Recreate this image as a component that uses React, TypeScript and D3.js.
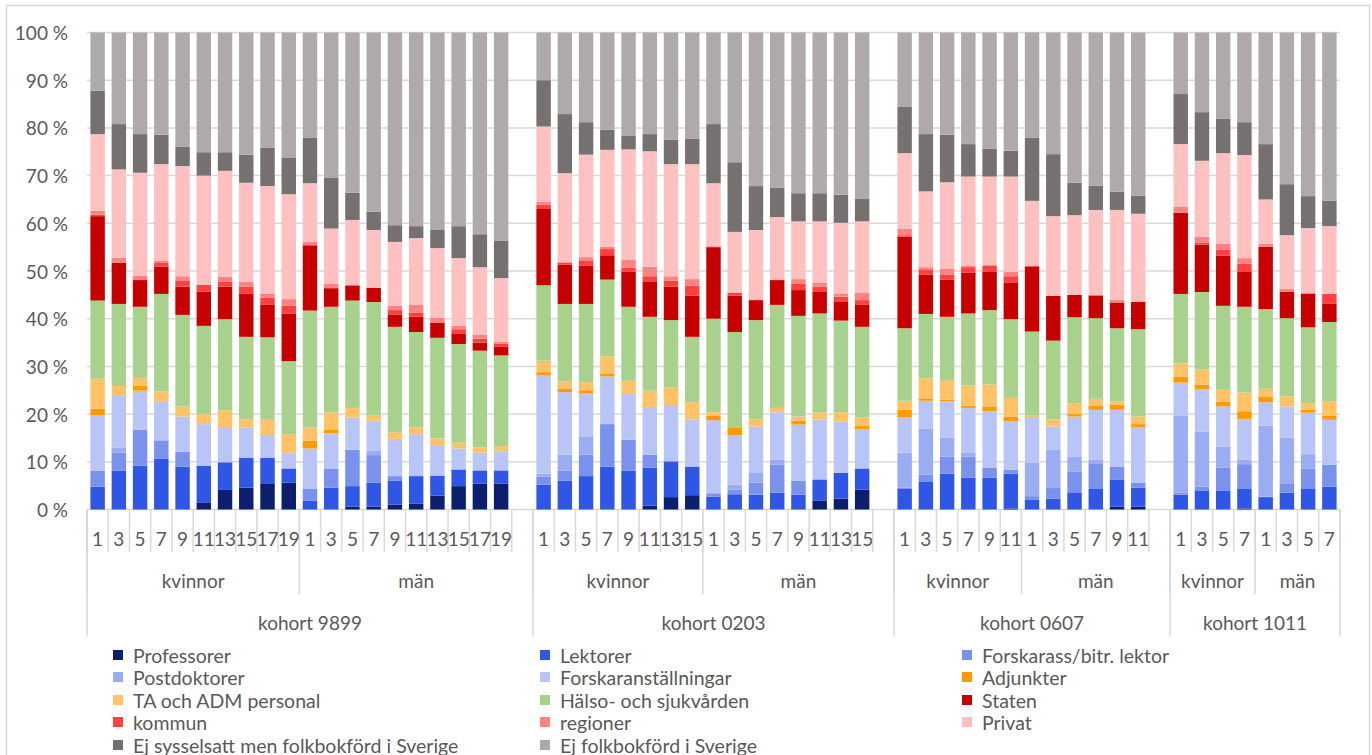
import React from "react";
import * as d3 from "d3";

// ---------- DATA ----------
const kohorts = ["kohort 9899", "kohort 0203", "kohort 0607", "kohort 1011"];
const genders = ["kvinnor", "män"];
const yearsPerKohort = [
  ["1", "3", "5", "7", "9", "11", "13", "15", "17", "19"],
  ["1", "3", "5", "7", "9", "11", "13", "15"],
  ["1", "3", "5", "7", "9", "11"],
  ["1", "3", "5", "7"],
];
const yTicks = [0, 10, 20, 30, 40, 50, 60, 70, 80, 90, 100];

// order: 9899K(10) 9899M(10) 0203K(8) 0203M(8) 0607K(6) 0607M(6) 1011K(4) 1011M(4)
const professorer = [
  0, 0, 0, 0, 0, 1.5, 4.1, 4.6, 5.5, 5.6,
  0, 0, 0.6, 0.6, 1.0, 1.2, 2.9, 4.9, 5.4, 5.4,
  0, 0, 0, 0, 0, 0.8, 2.6, 3.0,
  0, 0, 0, 0, 0, 1.9, 2.3, 4.2,
  0, 0, 0, 0, 0, 0.2,
  0, 0, 0, 0, 0.6, 0.6,
  0, 0, 0, 0.2,
  0, 0, 0, 0,
];
const lektorer = [
  4.8, 8.1, 9.2, 10.6, 9.0, 7.7, 5.8, 6.2, 5.3, 3.0,
  1.8, 4.6, 4.3, 5.0, 5.0, 5.8, 4.2, 3.5, 2.8, 2.8,
  5.2, 6.0, 7.0, 9.0, 8.1, 8.0, 7.5, 6.0,
  2.7, 3.2, 3.1, 3.5, 3.1, 4.4, 5.4, 4.4,
  4.3, 5.9, 7.5, 6.7, 6.7, 7.3,
  2.0, 2.3, 3.6, 4.3, 5.6, 4.0,
  3.1, 4.0, 4.0, 4.1,
  2.6, 3.5, 4.3, 4.8,
];
const forskarass = [
  3.3, 3.8, 7.5, 3.9, 3.1, 0, 0, 0, 0, 0,
  2.5, 4.0, 7.6, 5.8, 1.0, 0, 0, 0, 0, 0,
  1.7, 2.1, 4.5, 8.9, 6.5, 2.7, 0, 0,
  0.7, 1.0, 2.5, 5.9, 2.9, 0, 0, 0,
  0.3, 1.4, 3.6, 4.4, 2.0, 0.8,
  0.8, 2.2, 4.4, 5.4, 2.8, 1.0,
  0.4, 0.8, 4.8, 5.2,
  0.1, 2.0, 4.3, 4.6,
];
const postdoktorer = [
  0, 1.1, 0, 0, 0, 0, 0, 0, 0, 0,
  0, 0, 0, 0.9, 0, 0, 0, 0, 0, 0,
  0.6, 3.4, 3.7, 0, 0, 0, 0, 0,
  0, 1.0, 2.2, 1.0, 0, 0, 0, 0,
  7.3, 9.6, 4.0, 0.9, 0, 0,
  7.0, 8.1, 3.0, 0.7, 0, 0,
  16.1, 11.5, 4.4, 0.9,
  14.9, 9.6, 3.0, 0,
];
const forskaranst = [
  11.6, 10.8, 8.2, 8.2, 7.4, 8.7, 7.2, 6.4, 4.8, 3.2,
  8.5, 7.4, 6.8, 6.3, 7.8, 8.8, 6.4, 4.4, 3.7, 4.0,
  20.6, 13.1, 9.1, 10.0, 9.6, 10.0, 11.6, 9.9,
  15.3, 10.4, 9.6, 10.0, 11.8, 12.6, 10.8, 8.2,
  7.4, 5.9, 7.6, 9.3, 11.9, 10.2,
  9.4, 4.8, 8.5, 10.5, 11.9, 11.6,
  7.0, 8.9, 8.4, 8.6,
  4.9, 6.5, 8.7, 9.4,
];
const adjunkter = [
  1.4, 0, 1.0, 0, 0, 0, 0, 0, 0, 0,
  1.6, 0.7, 0, 0, 0, 0, 0, 0, 0, 0,
  0.7, 0.7, 0.7, 0.5, 0, 0, 0, 0,
  0.9, 1.5, 0, 0, 0.8, 0, 0, 0.7,
  1.6, 0.5, 0.3, 0.5, 1.0, 1.0,
  0, 0, 0.5, 0.8, 1.0, 0.7,
  1.2, 1.0, 1.0, 1.6,
  1.2, 0, 0.6, 0.9,
];
const taAdm = [
  6.3, 2.1, 1.7, 2.1, 2.1, 2.1, 3.7, 1.7, 3.2, 4.0,
  2.8, 3.6, 2.0, 1.2, 1.4, 1.4, 1.4, 1.2, 1.1, 1.1,
  2.4, 1.6, 1.7, 3.7, 2.8, 3.4, 3.9, 3.6,
  0.8, 0, 1.6, 0.9, 0.9, 1.4, 1.9, 1.8,
  1.9, 4.2, 4.0, 4.2, 4.6, 3.9,
  0.6, 1.5, 2.3, 1.5, 0.8, 1.6,
  2.8, 3.2, 2.5, 3.9,
  1.6, 2.1, 1.4, 3.0,
];
const halso = [
  16.4, 17.2, 14.9, 20.4, 19.2, 18.5, 19.1, 17.3, 17.3, 15.3,
  24.5, 22.2, 22.5, 23.7, 22.1, 20.0, 21.1, 20.7, 20.3, 19.0,
  15.8, 16.2, 16.4, 16.1, 15.5, 15.5, 14.1, 13.7,
  19.6, 20.1, 20.7, 21.6, 21.1, 20.8, 19.2, 19.0,
  15.2, 13.5, 13.4, 15.1, 15.6, 16.5,
  17.5, 16.5, 18.0, 16.9, 15.3, 18.3,
  14.6, 16.2, 17.6, 18.0,
  16.7, 16.4, 15.9, 16.6,
];
const staten = [
  17.7, 8.6, 5.6, 5.7, 5.9, 7.2, 6.8, 9.1, 6.9, 10.0,
  13.7, 3.9, 3.2, 3.0, 2.6, 3.2, 3.2, 2.1, 1.7, 1.8,
  16.0, 8.2, 8.0, 5.1, 7.4, 7.3, 7.0, 8.6,
  15.0, 7.6, 4.2, 5.2, 5.4, 4.5, 3.9, 4.7,
  19.2, 8.2, 7.8, 8.6, 8.0, 7.6,
  13.7, 9.4, 4.7, 4.8, 5.4, 5.7,
  17.0, 9.9, 10.5, 7.3,
  13.1, 5.5, 7.1, 3.8,
];
const kommun = [
  0.3, 0, 0, 0.9, 1.2, 1.4, 1.1, 1.4, 1.4, 1.6,
  0, 0, 0, 0, 0.9, 0.9, 0, 1.0, 0.8, 0.7,
  0.9, 0.5, 1.0, 1.3, 0.8, 1.2, 1.3, 2.1,
  0, 0.6, 0, 0, 1.3, 1.1, 1.1, 0.9,
  0.3, 1.0, 1.0, 1.1, 1.3, 1.4,
  0, 0, 0, 0, 0, 0,
  0, 0.4, 1.3, 1.7,
  0, 0, 0, 2.1,
];
const regioner = [
  0.8, 1.1, 0.9, 0.3, 1.0, 0, 1.0, 1.0, 0.9, 1.4,
  0.7, 0.9, 0, 0, 0.9, 1.6, 1.0, 0.7, 0.8, 0.4,
  0.6, 0, 0.8, 0.5, 1.6, 2.0, 0.9, 1.4,
  0.2, 0, 0, 0, 1.0, 0.9, 0.7, 1.6,
  1.4, 0.6, 1.3, 0.3, 0.2, 0.9,
  0, 0, 0, 0, 0.6, 0,
  1.3, 1.3, 1.2, 1.2,
  0.6, 0.7, 0, 0,
];
const privat = [
  16.1, 18.5, 21.6, 20.3, 23.1, 22.9, 22.2, 20.8, 22.5, 22.0,
  12.3, 11.6, 13.7, 12.1, 13.4, 14.0, 14.6, 14.2, 14.2, 13.3,
  15.8, 18.7, 21.5, 20.3, 23.2, 24.2, 23.5, 24.1,
  13.2, 12.8, 14.7, 13.2, 12.1, 12.8, 14.8, 14.9,
  15.8, 15.9, 18.1, 18.7, 18.5, 20.0,
  13.7, 16.7, 16.7, 17.9, 18.8, 18.5,
  13.1, 15.9, 19.0, 21.6,
  9.3, 11.2, 13.7, 14.2,
];
const ejSysselsatt = [
  9.1, 9.5, 8.1, 6.2, 4.1, 4.9, 3.9, 5.9, 8.0, 7.6,
  9.5, 10.6, 5.7, 3.8, 3.5, 2.5, 3.8, 6.7, 6.9, 7.8,
  9.7, 12.4, 6.8, 4.2, 2.8, 3.6, 5.1, 5.3,
  12.4, 14.6, 9.2, 6.2, 5.9, 5.9, 5.9, 4.7,
  9.8, 12.0, 10.0, 6.8, 5.8, 5.4,
  13.2, 13.0, 6.8, 5.1, 3.8, 3.8,
  10.5, 10.2, 7.2, 6.9,
  11.6, 10.7, 6.7, 5.3,
];
const ejFolkbokford = [
  12.2, 19.2, 21.3, 21.4, 23.9, 25.1, 25.1, 25.6, 24.2, 26.3,
  22.1, 30.5, 33.6, 37.6, 40.4, 40.6, 41.4, 40.6, 42.3, 43.7,
  10.0, 17.1, 18.8, 20.4, 21.7, 21.3, 22.5, 22.3,
  19.2, 27.2, 32.2, 32.5, 33.7, 33.7, 34.0, 34.9,
  15.5, 21.3, 21.4, 23.4, 24.4, 24.8,
  22.1, 25.5, 31.5, 32.1, 33.4, 34.2,
  12.9, 16.7, 18.1, 18.8,
  23.4, 31.8, 34.3, 35.3,
];

const seriesNames = [
  "Professorer", "Lektorer", "Forskarass/bitr. lektor", "Postdoktorer",
  "Forskaranställningar", "Adjunkter", "TA och ADM personal", "Hälso- och sjukvården",
  "Staten", "kommun", "regioner", "Privat",
  "Ej sysselsatt men folkbokförd i Sverige", "Ej folkbokförd i Sverige",
];
const seriesValues = [
  professorer, lektorer, forskarass, postdoktorer, forskaranst, adjunkter, taAdm,
  halso, staten, kommun, regioner, privat, ejSysselsatt, ejFolkbokford,
];
const seriesColors = [
  "#0c1f6e", "#2f56e4", "#7a91ee", "#9aacf2", "#b9c5f7", "#ff9b00", "#ffc266",
  "#a9d18e", "#c70000", "#ff4040", "#ff8282", "#ffc0c0", "#767171", "#aeaaaa",
];

// ---------- LAYOUT ----------
const W = 1372;
const H = 755;
const plotLeft = 87;
const plotRight = 1340;
const plotTop = 32.5;
const plotBottom = 509.5;
const FONT = "Lato, 'Open Sans', sans-serif";
const TXT = "#595959";
const GRID = "#d9d9d9";
const AXIS_FS = 19;
const LEG_FS = 19.5;

type Slot = { id: string; k: number; g: number; label: string; blank: boolean };

export default function App() {
  const slots: Slot[] = [];
  kohorts.forEach((_, k) => {
    genders.forEach((_, g) => {
      yearsPerKohort[k].forEach((yr) => {
        slots.push({ id: `${k}-${g}-${yr}`, k, g, label: yr, blank: false });
      });
      if (g === 1 && k < kohorts.length - 1) {
        slots.push({ id: `${k}-${g}-blank`, k, g, label: "", blank: true });
      }
    });
  });
  const dataSlots = slots.filter((s) => !s.blank);

  const pi = 0.32;
  const x = d3
    .scaleBand<string>()
    .domain(slots.map((s) => s.id))
    .range([plotLeft, plotRight])
    .paddingInner(pi)
    .paddingOuter(pi / 2);
  const step = x.step();
  const leftOf = (id: string) => (x(id) as number) - (step - x.bandwidth()) / 2;

  const y = d3.scaleLinear().domain([0, 100]).range([plotBottom, plotTop]);

  const rows = dataSlots.map((s, i) => {
    const r: any = { id: s.id };
    seriesNames.forEach((n, j) => (r[n] = seriesValues[j][i]));
    return r;
  });
  const stacked = d3.stack<any>().keys(seriesNames)(rows);

  const tickLines: number[] = slots.map((s) => leftOf(s.id));
  tickLines.push(plotRight);
  const genderBounds: number[] = [];
  const kohortBounds: number[] = [];
  const genderLabels: { x: number; t: string }[] = [];
  const kohortLabels: { x: number; t: string }[] = [];
  kohorts.forEach((name, k) => {
    const ks = slots.filter((s) => s.k === k);
    const ks0 = leftOf(ks[0].id);
    const ks1 = leftOf(ks[ks.length - 1].id) + step;
    kohortBounds.push(ks0);
    if (k === kohorts.length - 1) kohortBounds.push(ks1);
    kohortLabels.push({ x: (ks0 + ks1) / 2, t: name });
    genders.forEach((gn, g) => {
      const gs = ks.filter((s) => s.g === g);
      const g0 = leftOf(gs[0].id);
      const g1 = leftOf(gs[gs.length - 1].id) + step;
      genderBounds.push(g0);
      genderLabels.push({ x: (g0 + g1) / 2, t: gn });
    });
  });

  const legendCols = [113, 540, 962];
  const legendRows = [655, 677, 700, 722, 745];

  return (
    <div style={{ position: "absolute", left: 0, top: 0 }}>
      <svg width={W} height={H} style={{ display: "block", background: "#fff" }}>
        <rect x={6.5} y={5.5} width={1363} height={800} fill="#fff" stroke={GRID} strokeWidth={1.5} />
        {yTicks.map((t) => (
          <line key={t} x1={plotLeft} x2={plotRight} y1={y(t)} y2={y(t)} stroke={GRID} strokeWidth={1.5} />
        ))}
        {yTicks.map((t) => (
          <text key={"l" + t} x={68} y={y(t)} textAnchor="end" dominantBaseline="central"
            fontFamily={FONT} fontSize={AXIS_FS} fill={TXT}>
            {`${t} %`}
          </text>
        ))}
        {stacked.map((layer, j) => (
          <g key={layer.key} fill={seriesColors[j]}>
            {layer.map((d, i) => {
              const h = y(d[0]) - y(d[1]);
              if (h <= 0) return null;
              return (
                <rect key={i} x={x(dataSlots[i].id)} width={x.bandwidth()} y={y(d[1])} height={h} />
              );
            })}
          </g>
        ))}
        {tickLines.map((lx, i) => (
          <line key={"t" + i} x1={lx} x2={lx} y1={plotBottom} y2={552} stroke={GRID} strokeWidth={1.5} />
        ))}
        {genderBounds.map((lx, i) => (
          <line key={"g" + i} x1={lx} x2={lx} y1={plotBottom} y2={594} stroke={GRID} strokeWidth={1.5} />
        ))}
        {kohortBounds.map((lx, i) => (
          <line key={"k" + i} x1={lx} x2={lx} y1={plotBottom} y2={636} stroke={GRID} strokeWidth={1.5} />
        ))}
        {slots.filter((s) => !s.blank).map((s) => (
          <text key={"c" + s.id} x={(x(s.id) as number) + x.bandwidth() / 2} y={538}
            textAnchor="middle" dominantBaseline="central" fontFamily={FONT} fontSize={AXIS_FS} fill={TXT}>
            {s.label}
          </text>
        ))}
        {genderLabels.map((g, i) => (
          <text key={"gl" + i} x={g.x} y={580} textAnchor="middle" dominantBaseline="central"
            fontFamily={FONT} fontSize={AXIS_FS} fill={TXT}>
            {g.t}
          </text>
        ))}
        {kohortLabels.map((g, i) => (
          <text key={"kl" + i} x={g.x} y={622} textAnchor="middle" dominantBaseline="central"
            fontFamily={FONT} fontSize={AXIS_FS} fill={TXT}>
            {g.t}
          </text>
        ))}
        {seriesNames.map((n, j) => {
          const cx = legendCols[j % 3];
          const cy = legendRows[Math.floor(j / 3)];
          return (
            <g key={"lg" + j}>
              <rect x={cx} y={cy - 5} width={10} height={10} fill={seriesColors[j]} />
              <text x={cx + 20} y={cy} dominantBaseline="central" fontFamily={FONT} fontSize={LEG_FS} fill={TXT}>
                {n}
              </text>
            </g>
          );
        })}
      </svg>
    </div>
  );
}
